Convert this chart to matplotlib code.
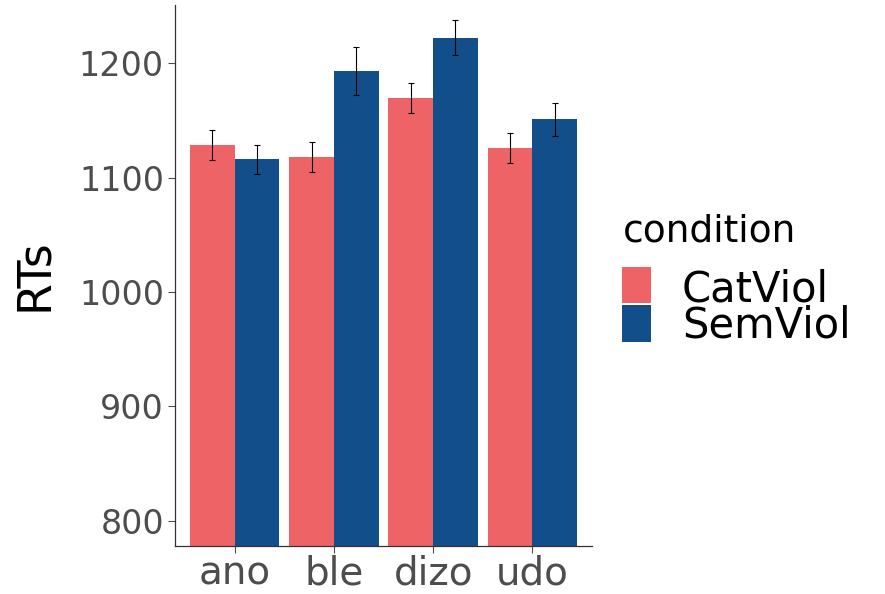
import numpy as np
import matplotlib
matplotlib.use("Agg")
import matplotlib.pyplot as plt
from matplotlib.patches import Rectangle

plt.rcParams['font.family'] = ['DejaVu Sans']

# datos
items = ["ano", "ble", "dizo", "udo"]
conditions = ["CatViol", "SemViol"]
cat_rt = [1128.6, 1118.1, 1169.7, 1126.0]
sem_rt = [1116.1, 1193.3, 1222.4, 1151.0]
cat_se = [13.1, 13.0, 13.4, 13.1]
sem_se = [12.8, 21.0, 15.1, 14.3]
colors = ["#EE6366", "#124E89"]
grey = "#4D4D4D"

W, H = 885, 594
fig = plt.figure(figsize=(W / 100, H / 100), dpi=100)
ax = fig.add_axes([175 / W, 1 - 546 / H, (592 - 175) / W, (546 - 5) / H])

x = np.arange(len(items))
w = 0.45
base = 700
for i, (vals, se) in enumerate([(cat_rt, cat_se), (sem_rt, sem_se)]):
    xpos = x + (i - 0.5) * w
    ax.bar(xpos, np.array(vals) - base, bottom=base, width=w, color=colors[i],
           edgecolor="none")
    ax.errorbar(xpos, vals, yerr=se, fmt="none", ecolor="black",
                elinewidth=0.8, capsize=2.5, capthick=0.8)

ax.set_xlim(-0.6, 3.6)
ax.set_ylim(778, 1251)
ax.set_yticks([800, 900, 1000, 1100, 1200])
ax.set_xticks(x)
ax.set_xticklabels(items)
ax.tick_params(axis="y", labelsize=24, colors=grey, length=5, width=0.8, pad=3,
               labelcolor=grey)
ax.tick_params(axis="x", labelsize=28, colors=grey, length=5, width=0.8, pad=1,
               labelcolor=grey)
for s in ["top", "right"]:
    ax.spines[s].set_visible(False)
for s in ["left", "bottom"]:
    ax.spines[s].set_color("#333333")
    ax.spines[s].set_linewidth(0.9)

fig.text(35 / W, 1 - 275 / H, "RTs", rotation=90, fontsize=33,
         ha="center", va="center", color="black")

# leyenda
fig.text(623 / W, 1 - 242 / H, "condition", fontsize=27, ha="left",
         va="baseline", color="black")
key_y = [(267, 303), (305, 342)]
label_base = [302, 338]
for i, cond in enumerate(conditions):
    y0, y1 = key_y[i]
    fig.add_artist(Rectangle((622 / W, 1 - y1 / H), 29 / W, (y1 - y0) / H,
                             transform=fig.transFigure, facecolor=colors[i],
                             edgecolor="none"))
    fig.text(682 / W, 1 - label_base[i] / H, cond, fontsize=30, ha="left",
             va="baseline", color="black")

fig.savefig("out.png", dpi=100)
